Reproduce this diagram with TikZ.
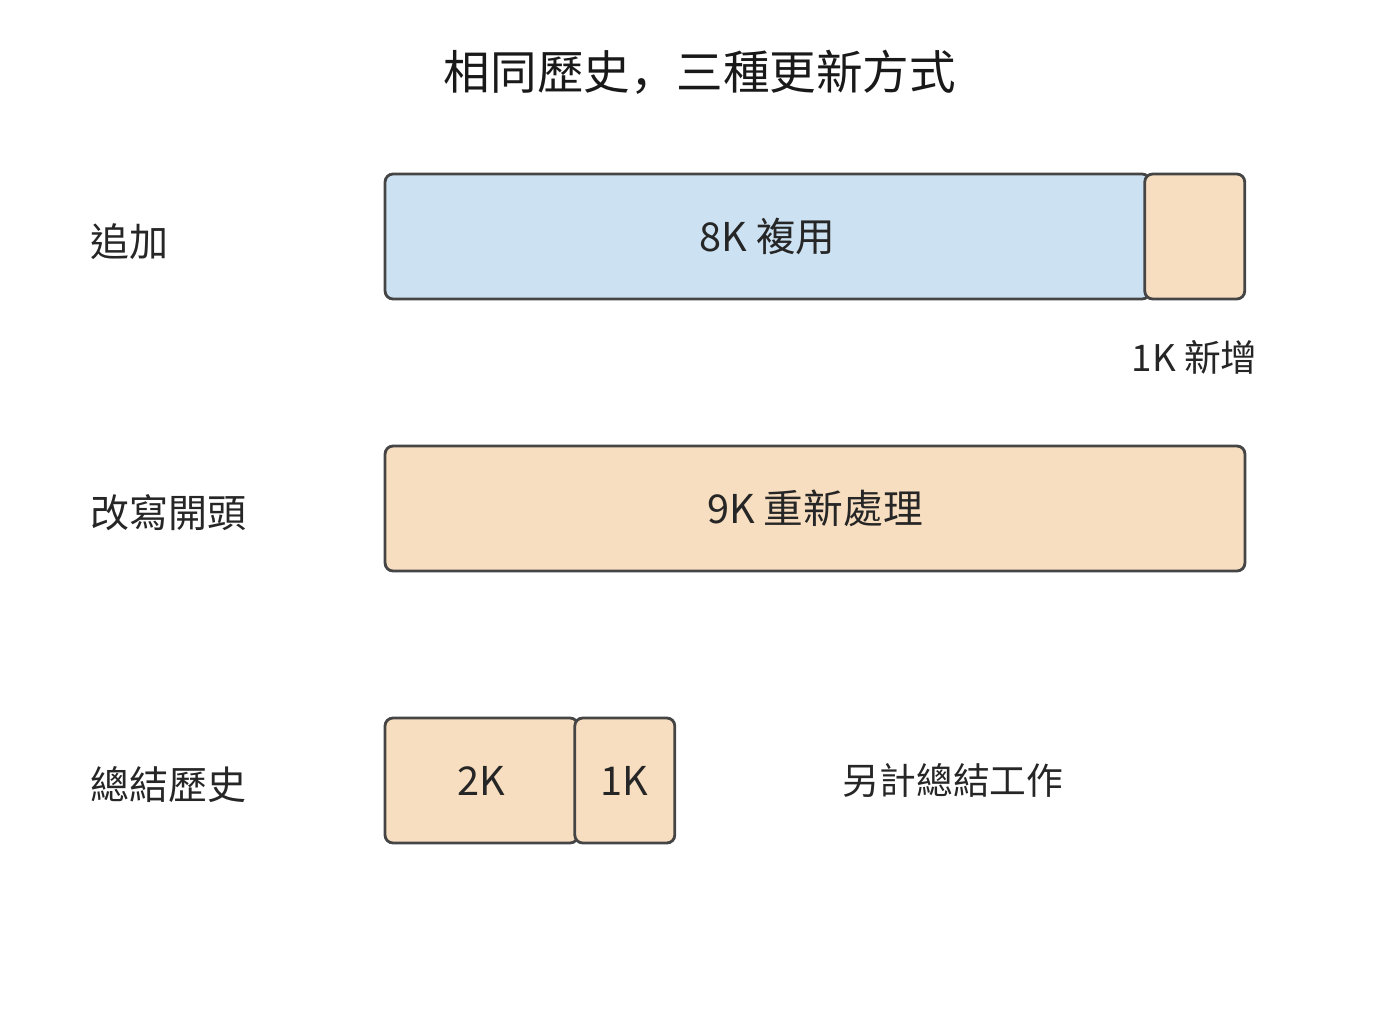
\documentclass[tikz,border=0pt]{standalone}
\usepackage{fontspec}
\setmainfont{Noto Sans CJK TC}
\newfontfamily\scfont{Noto Sans CJK SC}
\usetikzlibrary{positioning}
\definecolor{reuseblue}{HTML}{CCE2F2}
\definecolor{newtan}{HTML}{F8DEC0}
\definecolor{edgegray}{HTML}{454545}
\tikzstyle{block} = [rectangle, draw=edgegray, line width=1.6pt, rounded corners=4.5pt,
    minimum height=2.5cm, inner sep=0pt, text=black!85, font=\fontsize{22.6}{26}\selectfont]
\tikzstyle{rowlabel} = [anchor=west, inner sep=0pt, text=black!85, font=\fontsize{22.2}{26}\selectfont]
\tikzstyle{note} = [inner sep=0pt, text=black!85, font=\fontsize{20.9}{24}\selectfont]

\begin{document}
\begin{tikzpicture}[x=0.02cm,y=-0.02cm]
    \useasboundingbox (0,0) rectangle (1400,1008);
    % Title
    \node [inner sep=0pt, text=black!90, font=\fontsize{26.5}{30}\selectfont] (title) at (700,72) {相同歷史{\scfont ，}三種更新方式};
    % Row labels
    \node [rowlabel] (lappend) at (90,242) {追加};
    \node [rowlabel] (lrewrite) at (90,513) {改寫開頭};
    \node [rowlabel] (lsummary) at (90,785) {總結歷史};
    % Append row
    \node [block, fill=reuseblue, minimum width=15.3cm] (reuse) at (767.5,236.5) {8K 複用};
    \node [block, fill=newtan, minimum width=2cm, right=-0.16cm of reuse] (added) {};
    \node [note, below=0.8cm of added] (addednote) {1K 新增};
    % Rewrite row
    \node [block, fill=newtan, minimum width=17.2cm] (redo) at (815,508.5) {9K 重新處理};
    % Summary row
    \node [block, fill=newtan, minimum width=3.86cm] (summary) at (481.5,780.5) {2K};
    \node [block, fill=newtan, minimum width=2cm, right=-0.12cm of summary] (tail) {1K};
    \node [note] (extra) at (953,780) {另計總結工作};
\end{tikzpicture}
\end{document}
